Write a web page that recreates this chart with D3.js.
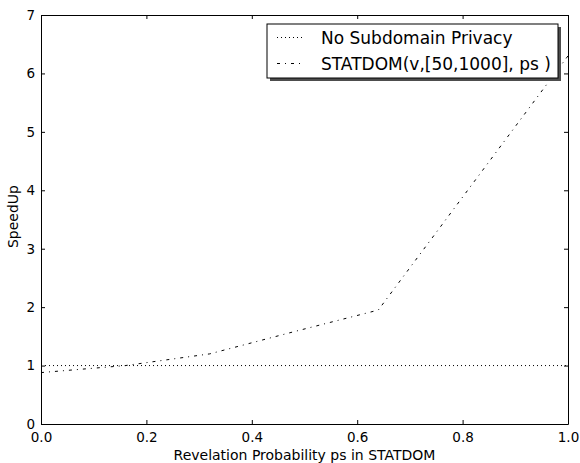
<!DOCTYPE html>
<html>
<head>
<meta charset="utf-8">
<script src="https://cdn.jsdelivr.net/npm/d3@7"></script>
<style>
  body { margin: 0; background: #fff; }
  svg { display: block; font-family: "DejaVu Sans", sans-serif; }
  .axis path, .axis line { stroke: #000; }
  .axis text { font-size: 13.5px; fill: #000; }
</style>
</head>
<body>
<div id="chart"></div>
<script>
const width = 580;
const height = 463;
const margin = { top: 15, right: 12, bottom: 39, left: 41 };

// data
const probs = [0, 0.16, 0.32, 0.48, 0.64, 1.0];
const statdomSpeedup = [0.88, 1.0, 1.2, 1.58, 1.95, 6.3];
const baselineSpeedup = 1;
const xTicks = [0, 0.2, 0.4, 0.6, 0.8, 1.0];
const yTicks = [0, 1, 2, 3, 4, 5, 6, 7];
const legendLabels = ["No Subdomain Privacy", "STATDOM(v,[50,1000], ps )"];

const svg = d3.select("#chart")
  .append("svg")
  .attr("width", width)
  .attr("height", height);

const x = d3.scaleLinear()
  .domain([0, 1])
  .range([margin.left, width - margin.right]);

const y = d3.scaleLinear()
  .domain([0, 7])
  .range([height - margin.bottom, margin.top]);

const x0 = x.range()[0], x1 = x.range()[1];
const y0 = y.range()[0], y1 = y.range()[1];

// axes, ticks pointing inward
svg.append("g")
  .attr("class", "axis")
  .attr("transform", `translate(0, ${y0})`)
  .call(d3.axisBottom(x).tickValues(xTicks).tickFormat(d3.format(".1f"))
    .tickSizeInner(-4).tickSizeOuter(0).tickPadding(8));

svg.append("g")
  .attr("class", "axis")
  .attr("transform", `translate(0, ${y1})`)
  .call(d3.axisTop(x).tickValues(xTicks).tickFormat("")
    .tickSizeInner(-4).tickSizeOuter(0));

svg.append("g")
  .attr("class", "axis")
  .attr("transform", `translate(${x0}, 0)`)
  .call(d3.axisLeft(y).tickValues(yTicks).tickFormat(d3.format("d"))
    .tickSizeInner(-4).tickSizeOuter(0).tickPadding(6));

svg.append("g")
  .attr("class", "axis")
  .attr("transform", `translate(${x1}, 0)`)
  .call(d3.axisRight(y).tickValues(yTicks).tickFormat("")
    .tickSizeInner(-4).tickSizeOuter(0));

svg.selectAll(".axis text").attr("font-family", "DejaVu Sans");

svg.append("text")
  .attr("x", (x0 + x1) / 2)
  .attr("y", height - 3)
  .attr("text-anchor", "middle")
  .attr("font-size", 14)
  .text("Revelation Probability ps in STATDOM");

svg.append("text")
  .attr("transform", "rotate(-90)")
  .attr("x", -(y0 + y1) / 2 + 3)
  .attr("y", 18)
  .attr("text-anchor", "middle")
  .attr("font-size", 14)
  .text("SpeedUp");

svg.append("clipPath").attr("id", "plot-clip")
  .append("rect")
  .attr("x", x0).attr("y", y1)
  .attr("width", x1 - x0).attr("height", y0 - y1);

const plot = svg.append("g").attr("clip-path", "url(#plot-clip)");

const line = d3.line()
  .x(d => x(d[0]))
  .y(d => y(d[1]));

plot.append("path")
  .datum([[0, baselineSpeedup], [1, baselineSpeedup]])
  .attr("fill", "none")
  .attr("stroke", "#000")
  .attr("stroke-dasharray", "1,3")
  .attr("d", line);

plot.append("path")
  .datum(probs.map((p, i) => [p, statdomSpeedup[i]]))
  .attr("fill", "none")
  .attr("stroke", "#000")
  .attr("stroke-dasharray", "3,5,1,5")
  .attr("d", line);

// legend with drop shadow
const legend = svg.append("g").attr("transform", "translate(267, 24)");
const lw = 291, lh = 54;

legend.append("rect")
  .attr("x", 3).attr("y", 3)
  .attr("width", lw).attr("height", lh)
  .attr("fill", "#4d4d4d");

legend.append("rect")
  .attr("x", 0).attr("y", 0)
  .attr("width", lw).attr("height", lh)
  .attr("fill", "#fff")
  .attr("stroke", "#000");

const dashes = ["1,3", "3,5,1,5"];

legendLabels.forEach((label, i) => {
  const cy = 13.5 + i * 26;
  legend.append("line")
    .attr("x1", 10).attr("x2", 36)
    .attr("y1", cy).attr("y2", cy)
    .attr("stroke", "#000")
    .attr("stroke-dasharray", dashes[i]);
  legend.append("text")
    .attr("x", 54)
    .attr("y", cy)
    .attr("dy", "0.36em")
    .attr("font-size", 17)
    .text(label);
});
</script>
</body>
</html>
